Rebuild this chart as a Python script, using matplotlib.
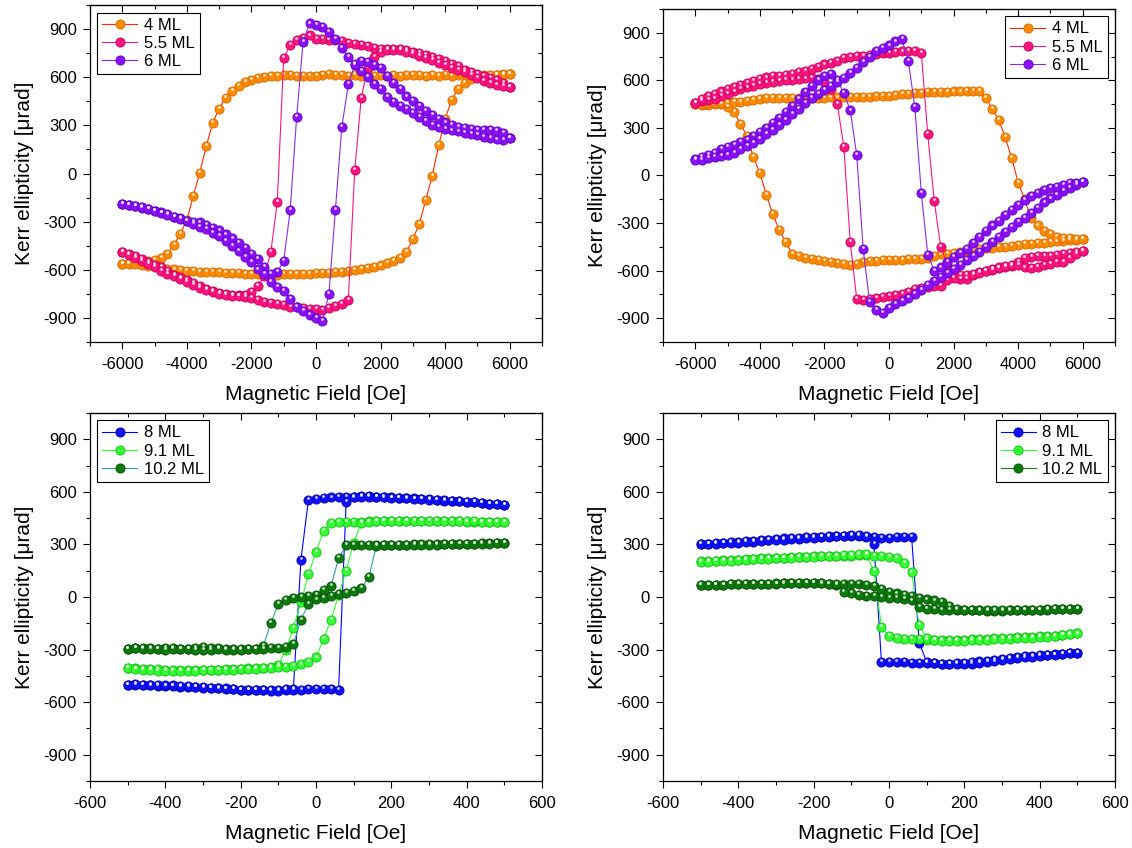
import matplotlib
matplotlib.use("Agg")
import matplotlib.pyplot as plt
from matplotlib.transforms import offset_copy
from matplotlib.ticker import NullFormatter

plt.rcParams['font.family'] = ['Liberation Sans', 'DejaVu Sans']
plt.rcParams['axes.unicode_minus'] = False

# sweep fields (Oe)
field_top = [-6000, -5800, -5600, -5400, -5200, -5000, -4800, -4600, -4400, -4200,
             -4000, -3800, -3600, -3400, -3200, -3000, -2800, -2600, -2400, -2200,
             -2000, -1800, -1600, -1400, -1200, -1000, -800, -600, -400, -200,
             0, 200, 400, 600, 800, 1000, 1200, 1400, 1600, 1800,
             2000, 2200, 2400, 2600, 2800, 3000, 3200, 3400, 3600, 3800,
             4000, 4200, 4400, 4600, 4800, 5000, 5200, 5400, 5600, 5800,
             6000]
field_bot = [-500, -480, -460, -440, -420, -400, -380, -360, -340, -320,
             -300, -280, -260, -240, -220, -200, -180, -160, -140, -120,
             -100, -80, -60, -40, -20, 0, 20, 40, 60, 80,
             100, 120, 140, 160, 180, 200, 220, 240, 260, 280,
             300, 320, 340, 360, 380, 400, 420, 440, 460, 480,
             500]

# ---- top left (urad), "down" = field sweep from + to -, listed on ascending field
tl4_down = [-561, -558, -555, -552, -548, -540, -525, -500, -445, -375,
            -290, -140, 5, 170, 315, 405, 472, 515, 548, 570,
            585, 597, 603, 608, 610, 612, 612, 610, 608, 610,
            608, 612, 618, 615, 612, 610, 612, 610, 612, 610,
            612, 610, 612, 610, 612, 614, 612, 610, 612, 610,
            612, 610, 612, 612, 612, 612, 614, 615, 616, 618,
            620]
tl4_up = [-561, -563, -566, -570, -575, -578, -585, -592, -598, -603,
          -608, -610, -612, -614, -615, -616, -618, -620, -622, -625,
          -628, -628, -630, -630, -630, -628, -628, -626, -625, -624,
          -622, -620, -618, -615, -612, -608, -603, -597, -590, -582,
          -573, -560, -545, -525, -490, -408, -315, -165, -15, 175,
          340, 457, 525, 565, 590, 602, 608, 610, 612, 616,
          620]
tl55_down = [-490, -500, -512, -530, -550, -568, -585, -605, -630, -648,
             -665, -682, -700, -718, -730, -742, -750, -755, -760, -755,
             -740, -700, -640, -490, -180, 720, 800, 830, 845, 860,
             840, 838, 835, 830, 825, 815, 808, 800, 792, 785,
             778, 775, 776, 775, 768, 760, 752, 740, 727, 715,
             700, 684, 668, 645, 630, 618, 606, 595, 580, 565,
             540]
tl55_up = [-490, -510, -525, -545, -565, -585, -605, -625, -640, -660,
           -678, -695, -712, -725, -738, -748, -755, -762, -766, -770,
           -778, -788, -800, -808, -815, -822, -830, -835, -838, -842,
           -845, -850, -840, -825, -815, -790, 20, 470, 660, 725,
           755, 768, 772, 768, 760, 748, 735, 720, 705, 690,
           675, 660, 648, 630, 612, 595, 578, 562, 550, 543,
           540]
tl6_down = [-190, -198, -205, -213, -222, -232, -243, -255, -268, -280,
            -293, -300, -305, -320, -340, -355, -380, -405, -430, -465,
            -500, -535, -585, -625, -615, -545, -230, 350, 820, 935,
            925, 913, 880, 840, 780, 725, 678, 640, 600, 560,
            525, 478, 448, 418, 400, 375, 350, 325, 300, 290,
            280, 268, 262, 252, 245, 238, 230, 222, 212, 210,
            220]
tl6_up = [-190, -195, -200, -210, -222, -235, -248, -258, -270, -282,
          -295, -315, -335, -345, -368, -390, -420, -450, -480, -520,
          -550, -598, -625, -675, -705, -732, -780, -830, -855, -880,
          -898, -920, -750, -230, 290, 555, 680, 700, 696, 675,
          655, 610, 565, 527, 480, 450, 420, 390, 365, 340,
          318, 305, 292, 283, 276, 270, 270, 270, 265, 252,
          220]

# ---- top right
tr4_down = [450, 445, 445, 448, 450, 430, 400, 325, 250, 115,
            15, -120, -245, -345, -420, -495, -505, -518, -525, -535,
            -542, -548, -552, -560, -565, -560, -548, -540, -538, -535,
            -535, -532, -530, -528, -526, -524, -518, -508, -498, -495,
            -490, -485, -478, -470, -465, -460, -455, -452, -448, -444,
            -438, -434, -430, -427, -424, -420, -416, -412, -408, -405,
            -400]
tr4_up = [450, 452, 455, 455, 458, 460, 462, 465, 470, 478,
          484, 486, 488, 490, 490, 490, 490, 488, 490, 490,
          490, 492, 492, 494, 494, 494, 496, 498, 500, 502,
          504, 508, 512, 516, 520, 522, 524, 526, 527, 528,
          530, 530, 532, 532, 534, 490, 420, 350, 240, 110,
          -45, -150, -270, -315, -350, -370, -388, -392, -395, -398,
          -400]
tr55_down = [460, 470, 478, 485, 500, 515, 530, 545, 555, 565,
             575, 585, 590, 595, 600, 605, 610, 612, 615, 610,
             590, 545, 450, 180, -420, -780, -785, -780, -774, -765,
             -758, -752, -745, -737, -718, -710, -705, -700, -695, -660,
             -645, -650, -654, -630, -610, -602, -595, -585, -578, -570,
             -545, -518, -512, -510, -507, -505, -500, -495, -488, -482,
             -478]
tr55_up = [460, 480, 500, 515, 530, 548, 560, 572, 585, 598,
           610, 618, 625, 630, 634, 640, 650, 660, 672, 685,
           700, 710, 725, 740, 748, 754, 756, 760, 765, 770,
           775, 780, 782, 784, 785, 770, 260, -160, -450, -560,
           -600, -625, -630, -620, -612, -600, -590, -580, -572, -565,
           -565, -580, -585, -575, -565, -555, -548, -545, -520, -495,
           -478]
tr6_down = [105, 115, 130, 145, 165, 180, 195, 210, 225, 250,
            275, 300, 330, 365, 400, 440, 485, 525, 565, 605,
            625, 640, 600, 520, 410, 130, -465, -800, -850, -865,
            -835, -810, -790, -770, -748, -720, -693, -665, -640, -615,
            -590, -562, -535, -508, -480, -452, -420, -390, -358, -325,
            -295, -265, -235, -205, -170, -145, -122, -100, -80, -62,
            -42]
tr6_up = [95, 100, 108, 118, 125, 132, 145, 165, 185, 205,
          230, 260, 290, 320, 350, 385, 420, 455, 488, 515,
          540, 565, 590, 615, 645, 680, 715, 750, 785, 805,
          820, 845, 860, 720, 430, -110, -500, -600, -580, -545,
          -515, -490, -465, -425, -385, -350, -315, -285, -250, -215,
          -185, -155, -128, -110, -92, -80, -70, -58, -50, -45,
          -42]

# ---- bottom left
bl8_down = [-500, -502, -504, -505, -506, -508, -510, -512, -514, -516,
            -518, -520, -522, -524, -526, -528, -528, -530, -530, -530,
            -528, -526, -524, 212, 556, 560, 565, 568, 570, 572,
            572, 574, 574, 572, 570, 568, 566, 564, 562, 560,
            557, 555, 552, 549, 546, 543, 540, 537, 533, 530,
            526]
bl8_up = [-500, -498, -500, -502, -502, -505, -505, -508, -510, -512,
          -515, -518, -520, -522, -525, -528, -530, -530, -532, -535,
          -535, -533, -530, -528, -525, -525, -525, -527, -530, 540,
          568, 572, 572, 570, 568, 566, 565, 562, 560, 557,
          555, 552, 550, 547, 545, 542, 540, 536, 532, 530,
          526]
bl91_down = [-405, -408, -410, -412, -412, -414, -415, -415, -416, -416,
             -416, -415, -414, -413, -412, -410, -408, -406, -404, -402,
             -390, -300, -175, -30, 130, 257, 375, 425, 428, 430,
             430, 430, 431, 432, 432, 432, 433, 433, 434, 434,
             434, 434, 433, 432, 432, 430, 430, 428, 426, 426,
             428]
bl91_up = [-405, -410, -414, -418, -420, -420, -422, -422, -420, -420,
           -418, -418, -416, -416, -414, -412, -410, -410, -408, -406,
           -402, -400, -392, -385, -370, -345, -240, -130, 10, 150,
           310, 420, 430, 432, 432, 434, 434, 435, 435, 436,
           436, 436, 435, 435, 434, 434, 432, 430, 428, 426,
           428]
bl102_down = [-295, -290, -290, -292, -295, -292, -292, -295, -298, -290,
              -285, -290, -293, -296, -298, -298, -298, -295, -280, -150,
              -40, -15, -3, 2, 5, 12, 40, 65, 220, 295,
              295, 296, 296, 297, 297, 298, 298, 299, 300, 300,
              301, 301, 302, 302, 303, 304, 305, 306, 307, 308,
              310]
bl102_up = [-295, -292, -295, -296, -298, -300, -298, -296, -298, -300,
            -302, -300, -298, -300, -302, -300, -298, -296, -294, -292,
            -290, -285, -270, -130, -40, -14, -5, 5, 15, 25,
            35, 50, 112, 290, 295, 296, 296, 297, 297, 298,
            298, 299, 300, 300, 301, 302, 303, 304, 305, 306,
            310]

# ---- bottom right
br8_down = [303, 305, 308, 310, 312, 315, 318, 322, 326, 328,
            330, 334, 336, 338, 340, 343, 345, 347, 348, 350,
            350, 348, 345, 303, -373, -373, -373, -373, -374, -375,
            -377, -378, -380, -380, -378, -376, -372, -368, -364, -360,
            -355, -348, -342, -338, -335, -332, -330, -328, -325, -322,
            -319]
br8_up = [300, 302, 304, 306, 308, 310, 313, 316, 320, 323,
          326, 328, 330, 333, 336, 338, 340, 343, 346, 350,
          355, 352, 348, 345, 338, 338, 340, 340, 342, -260,
          -370, -378, -382, -384, -384, -382, -380, -376, -372, -368,
          -362, -356, -350, -345, -340, -336, -333, -330, -326, -322,
          -319]
br91_down = [205, 206, 208, 210, 212, 213, 215, 218, 220, 222,
             223, 225, 226, 228, 230, 232, 232, 233, 235, 235,
             236, 238, 238, 150, -170, -225, -235, -238, -240, -242,
             -244, -245, -246, -246, -245, -243, -242, -240, -238, -236,
             -234, -232, -230, -228, -226, -224, -222, -220, -216, -212,
             -208]
br91_up = [200, 202, 204, 206, 208, 210, 212, 214, 216, 218,
           220, 222, 224, 226, 228, 230, 232, 234, 236, 238,
           240, 245, 245, 235, 232, 228, 222, 195, 140, -160,
           -235, -245, -250, -252, -252, -250, -248, -246, -244, -242,
           -240, -238, -236, -234, -232, -230, -226, -222, -218, -214,
           -208]
br102_down = [67, 68, 70, 70, 72, 72, 74, 74, 76, 76,
              76, 78, 78, 78, 80, 80, 78, 76, 70, 31,
              22, 13, 8, 4, 0, -3, -7, -12, -20, -55,
              -68, -70, -72, -72, -74, -75, -76, -77, -78, -78,
              -78, -77, -76, -75, -74, -73, -72, -71, -70, -70,
              -69]
br102_up = [67, 69, 70, 71, 72, 73, 74, 75, 76, 76,
            77, 77, 78, 78, 78, 78, 77, 76, 74, 74,
            75, 74, 70, 62, 45, 30, 20, 12, 4, -4,
            -14, -20, -26, -50, -68, -72, -73, -74, -75, -76,
            -76, -76, -75, -74, -73, -72, -71, -70, -70, -70,
            -69]


def loop(ax, fig, field, down, up, label, mcol, lcol, ecol):
    # sweep + -> - then - -> +
    x = field[::-1] + field
    y = down[::-1] + up
    ax.plot(x, y, color=lcol, lw=0.8, marker='o', ms=6.6, mfc=mcol, mec=ecol,
            mew=0.6, label=label)
    hl = offset_copy(ax.transData, fig=fig, x=-0.3, y=1.4, units='points')
    ax.plot(x, y, ls='none', marker='o', ms=2.0, mfc='white', mec='none',
            alpha=0.8, transform=hl)


def style(ax, xlim, xmajor, xminor, legend_loc):
    ymajor = [-900, -600, -300, 0, 300, 600, 900]
    yminor = [-1050 + 150 * i for i in range(15)]
    ax.set_xlim(*xlim)
    ax.set_ylim(-1000, 1000)
    ax.set_xticks(xmajor)
    ax.set_xticks(xminor, minor=True)
    ax.set_yticks(ymajor)
    ax.set_yticks(yminor, minor=True)
    ax.tick_params(which='both', direction='out', labelsize=12, width=0.8)
    ax.tick_params(which='major', length=5, pad=4.5)
    ax.tick_params(axis='x', which='major', pad=6)
    ax.tick_params(which='minor', length=3)
    for s in ax.spines.values():
        s.set_linewidth(0.9)
    top = ax.secondary_xaxis('top')
    top.set_xticks(xmajor)
    top.set_xticks(xminor, minor=True)
    top.xaxis.set_major_formatter(NullFormatter())
    top.tick_params(which='both', direction='in', width=0.8)
    top.tick_params(which='major', length=5)
    top.tick_params(which='minor', length=3)
    right = ax.secondary_yaxis('right')
    right.set_yticks(ymajor)
    right.set_yticks(yminor, minor=True)
    right.yaxis.set_major_formatter(NullFormatter())
    right.tick_params(which='both', direction='in', width=0.8)
    right.tick_params(which='major', length=5)
    right.tick_params(which='minor', length=3)
    ax.set_xlabel('Magnetic Field [Oe]', fontsize=15, labelpad=9)
    ax.set_ylabel('Kerr ellipticity [\u03bcrad]', fontsize=15, labelpad=7)
    leg = ax.legend(loc=legend_loc, fontsize=12, numpoints=1, handlelength=2.1,
                    handletextpad=0.4, borderaxespad=0.45, fancybox=False,
                    edgecolor='black', framealpha=1, labelspacing=0.2,
                    borderpad=0.3)
    leg.get_frame().set_linewidth(0.8)


fig = plt.figure(figsize=(11.32, 8.48), dpi=100)
ax_tl = fig.add_axes([0.0795, 0.5967, 0.3993, 0.3974])
ax_tr = fig.add_axes([0.5857, 0.5967, 0.3993, 0.3927])
ax_bl = fig.add_axes([0.0795, 0.0790, 0.3993, 0.4340])
ax_br = fig.add_axes([0.5857, 0.0790, 0.3993, 0.4340])

c4, l4, e4 = '#FF8C00', '#FF2A00', '#D86A00'
c55, l55, e55 = '#FF1480', '#FF1480', '#C8005A'
c6, l6, e6 = '#8A10FF', '#8A2BE2', '#6000C0'
c8, l8, e8 = '#1010FF', '#0000FF', '#0000B0'
c91, l91, e91 = '#33FF33', '#33FF33', '#10C010'
c102, e102 = '#0A7A0A', '#045004'

top_major = [-6000, -4000, -2000, 0, 2000, 4000, 6000]
top_minor = [-7000, -5000, -3000, -1000, 1000, 3000, 5000, 7000]
bot_major = [-600, -400, -200, 0, 200, 400, 600]
bot_minor = [-500, -300, -100, 100, 300, 500]

loop(ax_tl, fig, field_top, tl4_down, tl4_up, '4 ML', c4, l4, e4)
loop(ax_tl, fig, field_top, tl55_down, tl55_up, '5.5 ML', c55, l55, e55)
loop(ax_tl, fig, field_top, tl6_down, tl6_up, '6 ML', c6, l6, e6)
style(ax_tl, (-7000, 7000), top_major, top_minor, 'upper left')

loop(ax_tr, fig, field_top, tr4_down, tr4_up, '4 ML', c4, l4, e4)
loop(ax_tr, fig, field_top, tr55_down, tr55_up, '5.5 ML', c55, l55, e55)
loop(ax_tr, fig, field_top, tr6_down, tr6_up, '6 ML', c6, l6, e6)
style(ax_tr, (-7000, 7000), top_major, top_minor, 'upper right')

loop(ax_bl, fig, field_bot, bl8_down, bl8_up, '8 ML', c8, l8, e8)
loop(ax_bl, fig, field_bot, bl91_down, bl91_up, '9.1 ML', c91, l91, e91)
loop(ax_bl, fig, field_bot, bl102_down, bl102_up, '10.2 ML', c102, '#2E9E9E', e102)
style(ax_bl, (-600, 600), bot_major, bot_minor, 'upper left')

loop(ax_br, fig, field_bot, br8_down, br8_up, '8 ML', c8, l8, e8)
loop(ax_br, fig, field_bot, br91_down, br91_up, '9.1 ML', c91, l91, e91)
loop(ax_br, fig, field_bot, br102_down, br102_up, '10.2 ML', c102, '#108010', e102)
style(ax_br, (-600, 600), bot_major, bot_minor, 'upper right')

fig.savefig('out.png', dpi=100)
